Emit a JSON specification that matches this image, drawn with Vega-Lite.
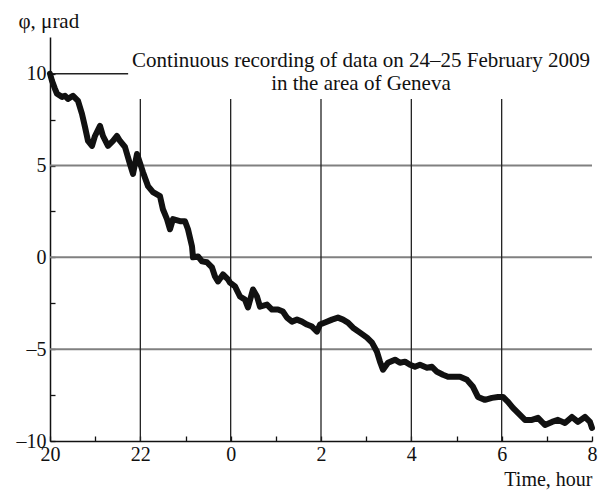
{
  "$schema": "https://vega.github.io/schema/vega-lite/v6.json",
  "width": 542,
  "height": 404,
  "padding": {"left": 50, "top": 37, "right": 10, "bottom": 49},
  "autosize": {"type": "none"},
  "background": "white",
  "config": {"view": {"stroke": null}, "font": "Liberation Serif"},
  "datasets": {
    "series": [
      {"h": 0.0, "v": 10.0}, {"h": 0.044, "v": 9.62}, {"h": 0.11, "v": 9.18}, {"h": 0.155, "v": 8.91},
      {"h": 0.266, "v": 8.74}, {"h": 0.332, "v": 8.8}, {"h": 0.398, "v": 8.63}, {"h": 0.509, "v": 8.8},
      {"h": 0.62, "v": 8.52}, {"h": 0.708, "v": 7.81}, {"h": 0.775, "v": 7.1}, {"h": 0.841, "v": 6.34},
      {"h": 0.93, "v": 6.07}, {"h": 0.996, "v": 6.61}, {"h": 1.107, "v": 7.16}, {"h": 1.173, "v": 6.61},
      {"h": 1.284, "v": 6.07}, {"h": 1.395, "v": 6.34}, {"h": 1.483, "v": 6.61}, {"h": 1.55, "v": 6.34},
      {"h": 1.66, "v": 6.01}, {"h": 1.771, "v": 5.08}, {"h": 1.838, "v": 4.54}, {"h": 1.926, "v": 5.63},
      {"h": 2.059, "v": 4.64}, {"h": 2.17, "v": 3.88}, {"h": 2.28, "v": 3.55}, {"h": 2.435, "v": 3.33},
      {"h": 2.5, "v": 2.62}, {"h": 2.59, "v": 2.08}, {"h": 2.657, "v": 1.53}, {"h": 2.723, "v": 2.08},
      {"h": 2.878, "v": 1.97}, {"h": 2.989, "v": 1.97}, {"h": 3.055, "v": 1.53}, {"h": 3.144, "v": 0.6},
      {"h": 3.166, "v": 0.0}, {"h": 3.277, "v": 0.05}, {"h": 3.365, "v": -0.22}, {"h": 3.476, "v": -0.27},
      {"h": 3.587, "v": -0.55}, {"h": 3.653, "v": -1.04}, {"h": 3.719, "v": -1.31}, {"h": 3.83, "v": -0.93},
      {"h": 3.941, "v": -1.2}, {"h": 3.985, "v": -1.37}, {"h": 4.096, "v": -1.58}, {"h": 4.206, "v": -2.13},
      {"h": 4.317, "v": -2.3}, {"h": 4.383, "v": -2.73}, {"h": 4.494, "v": -1.75}, {"h": 4.583, "v": -2.13},
      {"h": 4.649, "v": -2.68}, {"h": 4.804, "v": -2.57}, {"h": 4.915, "v": -2.84}, {"h": 5.048, "v": -2.84},
      {"h": 5.158, "v": -2.95}, {"h": 5.247, "v": -3.28}, {"h": 5.358, "v": -3.5}, {"h": 5.468, "v": -3.39},
      {"h": 5.579, "v": -3.5}, {"h": 5.69, "v": -3.66}, {"h": 5.8, "v": -3.77}, {"h": 5.911, "v": -4.04},
      {"h": 5.977, "v": -3.66}, {"h": 6.088, "v": -3.55}, {"h": 6.243, "v": -3.39}, {"h": 6.376, "v": -3.28},
      {"h": 6.487, "v": -3.39}, {"h": 6.597, "v": -3.55}, {"h": 6.708, "v": -3.83}, {"h": 6.863, "v": -4.1},
      {"h": 7.018, "v": -4.37}, {"h": 7.129, "v": -4.64}, {"h": 7.239, "v": -5.14}, {"h": 7.306, "v": -5.68},
      {"h": 7.372, "v": -6.12}, {"h": 7.483, "v": -5.74}, {"h": 7.638, "v": -5.57}, {"h": 7.748, "v": -5.74},
      {"h": 7.859, "v": -5.68}, {"h": 7.97, "v": -5.85}, {"h": 8.08, "v": -5.96}, {"h": 8.191, "v": -5.85},
      {"h": 8.346, "v": -6.01}, {"h": 8.457, "v": -5.96}, {"h": 8.568, "v": -6.23}, {"h": 8.7, "v": -6.39},
      {"h": 8.811, "v": -6.5}, {"h": 8.922, "v": -6.5}, {"h": 9.077, "v": -6.5}, {"h": 9.232, "v": -6.67},
      {"h": 9.365, "v": -7.05}, {"h": 9.475, "v": -7.6}, {"h": 9.63, "v": -7.76}, {"h": 9.785, "v": -7.65},
      {"h": 9.918, "v": -7.6}, {"h": 10.029, "v": -7.6}, {"h": 10.14, "v": -7.87}, {"h": 10.25, "v": -8.2},
      {"h": 10.405, "v": -8.58}, {"h": 10.516, "v": -8.85}, {"h": 10.671, "v": -8.85}, {"h": 10.804, "v": -8.74},
      {"h": 10.959, "v": -9.13}, {"h": 11.114, "v": -8.96}, {"h": 11.246, "v": -8.85}, {"h": 11.401, "v": -9.02},
      {"h": 11.556, "v": -8.69}, {"h": 11.689, "v": -8.96}, {"h": 11.844, "v": -8.69}, {"h": 11.955, "v": -8.96},
      {"h": 12.0, "v": -9.29}
    ]
  },
  "layer": [
    {
      "data": {"values": [{"v": 5}, {"v": 0}, {"v": -5}]},
      "mark": {"type": "rule", "color": "#808080", "strokeWidth": 2},
      "encoding": {"y": {"field": "v", "type": "quantitative"}}
    },
    {
      "data": {"values": [{"h": 2}, {"h": 4}, {"h": 6}, {"h": 8}, {"h": 10}]},
      "mark": {"type": "rule", "color": "#222222", "strokeWidth": 1.3},
      "encoding": {
        "x": {"field": "h", "type": "quantitative"},
        "y": {"datum": -10},
        "y2": {"datum": 8.63}
      }
    },
    {
      "data": {"values": [{"a": 0, "b": 1.73, "v": 10}]},
      "mark": {"type": "rule", "color": "#222222", "strokeWidth": 1.3},
      "encoding": {
        "x": {"field": "a", "type": "quantitative"},
        "x2": {"field": "b"},
        "y": {"field": "v", "type": "quantitative"}
      }
    },
    {
      "data": {"name": "series"},
      "mark": {"type": "line", "color": "#111111", "strokeWidth": 6, "strokeJoin": "round", "strokeCap": "round"},
      "encoding": {
        "x": {
          "field": "h", "type": "quantitative",
          "scale": {"domain": [0, 12], "nice": false, "zero": false},
          "axis": {
            "values": [0,1,2,3,4,5,6,7,8,9,10,11,12],
            "labelExpr": "datum.value % 2 == 0 ? '' + ((datum.value + 20) % 24) : ''",
            "grid": false,
            "tickSize": -5, "tickColor": "#111111", "tickWidth": 1.3,
            "domainColor": "#111111", "domainWidth": 1.5,
            "labelFont": "Liberation Serif", "labelFontSize": 20, "labelColor": "#111111",
            "labelPadding": 8, "labelFlush": false, "labelOverlap": false,
            "title": "Time, hour", "titleFont": "Liberation Serif", "titleFontSize": 20,
            "titleFontWeight": "normal", "titleColor": "#111111",
            "titleAlign": "right", "titleAnchor": "end", "titleX": 542, "titleY": 44,
            "titleBaseline": "alphabetic"
          }
        },
        "y": {
          "field": "v", "type": "quantitative",
          "scale": {"domain": [-10, 12], "nice": false, "zero": false},
          "axis": {
            "values": [-10, -7.5, -5, -2.5, 0, 2.5, 5, 7.5, 10],
            "labelExpr": "datum.value % 5 != 0 ? '' : (datum.value < 0 ? '\u2013' + abs(datum.value) : '' + datum.value)",
            "grid": false,
            "tickSize": -5, "tickColor": "#111111", "tickWidth": 1.3,
            "domainColor": "#111111", "domainWidth": 1.5,
            "labelFont": "Liberation Serif", "labelFontSize": 20, "labelColor": "#111111",
            "labelPadding": 9, "labelFlush": false, "labelOverlap": false,
            "title": "\u03c6, \u03bcrad", "titleFont": "Liberation Serif", "titleFontSize": 21,
            "titleFontWeight": "normal", "titleColor": "#111111",
            "titleAngle": 0, "titleAlign": "left", "titleX": -32, "titleY": -10,
            "titleBaseline": "alphabetic"
          }
        }
      }
    },
    {
      "data": {"values": [{"h": 6.885, "v": 10.35, "t": ["Continuous recording of data on 24\u201325 February 2009", "in the area of Geneva"]}]},
      "mark": {"type": "text", "font": "Liberation Serif", "fontSize": 21, "align": "center", "baseline": "alphabetic", "lineHeight": 23, "color": "#111111"},
      "encoding": {
        "x": {"field": "h", "type": "quantitative"},
        "y": {"field": "v", "type": "quantitative"},
        "text": {"field": "t"}
      }
    }
  ]
}
